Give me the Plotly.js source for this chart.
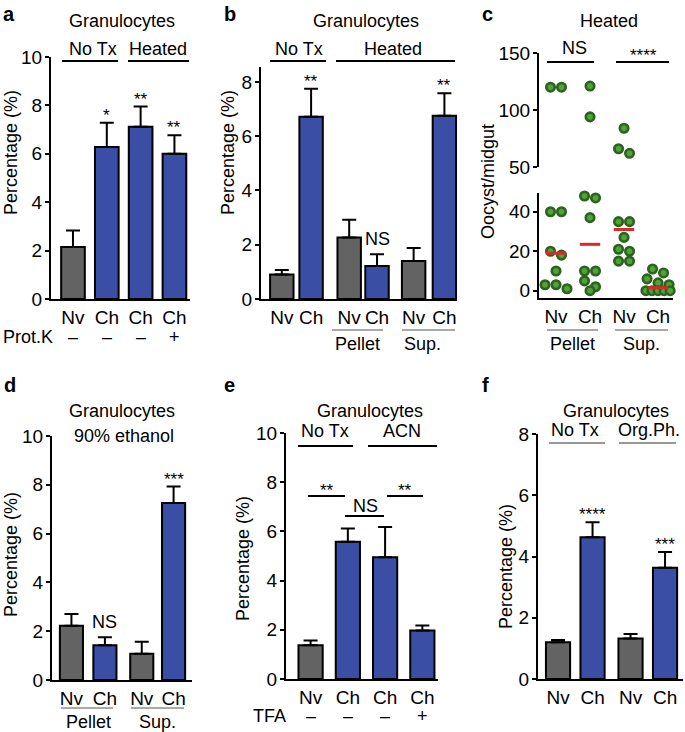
<!DOCTYPE html>
<html><head><meta charset="utf-8">
<script src="https://cdn.plot.ly/plotly-3.0.1.min.js"></script>
<style>body{margin:0;background:#fff}#chart{width:685px;height:732px}</style>
</head><body><div id="chart"></div>
<script>
// ---------------- DATA ----------------
// Panel a
const aLabels = ['Nv','Ch','Ch','Ch'];
const aValues = [2.15, 6.28, 7.12, 6.0];
const aErrors = [0.68, 1.0, 0.83, 0.77];
const aSig = ['', '*', '**', '**'];
const aProtK = ['–','–','–','+'];
// Panel b
const bLabels = ['Nv','Ch','Nv','Ch','Nv','Ch'];
const bValues = [0.9, 6.72, 2.27, 1.22, 1.4, 6.75];
const bErrors = [0.17, 1.03, 0.65, 0.43, 0.48, 0.83];
const bSig = ['', '**', '', 'NS', '', '**'];
// Panel c (oocysts per midgut)
const cLabels = ['Nv','Ch','Nv','Ch'];
const cPelletNv = [120,120,40,40,20,18,10,3,3,1];
const cPelletCh = [121,94,48,47,37,10,10,5,2,0];
const cSupNv = [84,66,62,35,35,27,21,20,15,15];
const cSupCh = [11,9,6,4,3,0,0,0,0,0];
// Panel d
const dLabels = ['Nv','Ch','Nv','Ch'];
const dValues = [2.22, 1.42, 1.08, 7.25];
const dErrors = [0.48, 0.33, 0.49, 0.68];
const dSig = ['', 'NS', '', '***'];
// Panel e
const eLabels = ['Nv','Ch','Ch','Ch'];
const eValues = [1.37, 5.58, 4.95, 1.97];
const eErrors = [0.2, 0.54, 1.23, 0.2];
const eTFA = ['–','–','–','+'];
// Panel f
const fLabels = ['Nv','Ch','Nv','Ch'];
const fValues = [1.2, 4.63, 1.32, 3.63];
const fErrors = [0.07, 0.49, 0.15, 0.52];
const fSig = ['', '****', '', '***'];

// ---------------- LAYOUT HELPERS ----------------
const W = 685, H = 732;
const X = p => p / W, Y = p => 1 - p / H;
const FONT = 'Liberation Sans, Arial, Helvetica, sans-serif';
const GREY = '#636363', BLUE = '#3b4ea5';
const TICK = 19;
const colorOf = l => l === 'Nv' ? GREY : BLUE;

function yax(top, bottom, range, tickvals, anchor) {
  return {domain: [Y(bottom), Y(top)], range, tickvals, ticktext: tickvals.map(String), anchor,
    showline: true, linecolor: '#000', linewidth: 2, ticks: 'outside', ticklen: 4, tickwidth: 2,
    tickcolor: '#000', showgrid: false, zeroline: false, fixedrange: true, ticklabelstandoff: -1,
    tickfont: {family: FONT, size: TICK, color: '#000'}};
}
function xax(l, r, range, pos, labels, anchor) {
  return {domain: [X(l), X(r)], range, tickvals: pos, ticktext: labels, anchor,
    showline: true, linecolor: '#000', linewidth: 2, ticks: '', showgrid: false, zeroline: false,
    fixedrange: true, ticklabelstandoff: 0, tickfont: {family: FONT, size: TICK, color: '#000'}};
}
function bars(pos, vals, errs, labels, width, xa, ya) {
  return {type: 'bar', x: pos, y: vals, width, xaxis: xa, yaxis: ya,
    marker: {color: labels.map(colorOf), line: {color: '#000', width: 2}},
    error_y: {type: 'data', symmetric: false, array: errs, arrayminus: errs.map(() => 0),
      color: '#000', thickness: 2, width: 7},
    hoverinfo: 'skip'};
}

const annotations = [], shapes = [];
function txt(t, x, y, size, o) {
  annotations.push(Object.assign({text: t, x: X(x), y: Y(y), xref: 'paper', yref: 'paper',
    xanchor: 'center', yanchor: 'middle', showarrow: false,
    font: {family: FONT, size: size || 17, color: '#000'}}, o || {}));
}
function hline(x0, x1, y, w, c) {
  shapes.push({type: 'line', xref: 'paper', yref: 'paper', x0: X(x0), x1: X(x1), y0: Y(y), y1: Y(y),
    line: {color: c || '#000', width: w || 2}});
}
function sig(list, pos, vals, errs, xr, yr) {
  list.forEach((s, i) => {
    if (!s) return;
    const star = s.indexOf('*') >= 0;
    annotations.push({text: s, x: pos[i], y: vals[i] + errs[i], xref: xr, yref: yr,
      xanchor: 'center', yanchor: 'bottom', showarrow: false, yshift: star ? -4 : 3,
      font: {family: FONT, size: star ? 17 : 18, color: '#000'}});
  });
}

// positions
const aPos = [0, 1, 2, 3];
const bPos = [0, 1, 2.3, 3.25, 4.5, 5.55];
const cPos = [0, 1, 2, 3];
const dPos = [0, 1, 2.1, 3.05];
const ePos = [0, 1, 2, 3];
const fPos = [0, 1, 2.1, 3.1];

const traces = [];
traces.push(bars(aPos, aValues, aErrors, aLabels, 0.7, 'x', 'y'));
traces.push(bars(bPos, bValues, bErrors, bLabels, 0.8, 'x2', 'y2'));
traces.push(bars(dPos, dValues, dErrors, dLabels, 0.69, 'x4', 'y5'));
traces.push(bars(ePos, eValues, eErrors, eLabels, 0.65, 'x5', 'y6'));
traces.push(bars(fPos, fValues, fErrors, fLabels, 0.7, 'x6', 'y7'));

// ---------------- PANEL C (broken axis dot plot) ----------------
const cX = [539, 673], cXr = [-0.5, 3.44];
const cLow = [193, 298], cLowR = [-3.7, 49.5];
const cUp = [53, 167], cUpR = [50, 150];
const xPxU = (cX[1] - cX[0]) / (cXr[1] - cXr[0]);
const lowPxU = (cLow[1] - cLow[0]) / (cLowR[1] - cLowR[0]);
const upPxU = (cUp[1] - cUp[0]) / (cUpR[1] - cUpR[0]);
const DOT = 11;
function swarm(vals, pxPerY) {
  const idx = vals.map((v, i) => i).sort((a, b) => vals[b] - vals[a]);
  const rows = []; let cur = null;
  idx.forEach(i => {
    if (cur && (vals[cur[0]] - vals[i]) * pxPerY < 0.8 * DOT) cur.push(i);
    else { cur = [i]; rows.push(cur); }
  });
  const off = new Array(vals.length).fill(0);
  rows.forEach(r => {
    const n = r.length;
    const step = n > 1 ? Math.min(DOT, 2.2 * DOT / (n - 1)) : 0;
    r.forEach((i, k) => { off[i] = (k - (n - 1) / 2) * step / xPxU; });
  });
  return off;
}
const median = a => { const s = [...a].sort((p, q) => p - q), m = s.length / 2;
  return s.length % 2 ? s[Math.floor(m)] : (s[m - 1] + s[m]) / 2; };
const cGroups = [cPelletNv, cPelletCh, cSupNv, cSupCh];
const dotMarker = {size: 8.5, color: '#52a23c', line: {color: '#2a641d', width: 2.6}};
cGroups.forEach((g, gi) => {
  [[g.filter(v => v >= 50), 'y4', upPxU], [g.filter(v => v < 50), 'y3', lowPxU]].forEach(([vals, ya, ppu]) => {
    if (!vals.length) return;
    const off = swarm(vals, ppu);
    traces.push({type: 'scatter', mode: 'markers', x: vals.map((v, i) => cPos[gi] + off[i]), y: vals,
      xaxis: 'x3', yaxis: ya, marker: dotMarker, cliponaxis: false, hoverinfo: 'skip'});
  });
  const m = median(g);
  traces.push({type: 'scatter', mode: 'lines', x: [cPos[gi] - 0.3, cPos[gi] + 0.3], y: [m, m],
    xaxis: 'x3', yaxis: 'y3', line: {color: '#d92a2a', width: 3}, hoverinfo: 'skip'});
});

// ---------------- ANNOTATIONS ----------------
// panel letters
[['a', 9, 14], ['b', 230, 14], ['c', 487, 14], ['d', 10, 385], ['e', 229, 385], ['f', 486, 385]]
  .forEach(([t, x, y]) => txt('<b>' + t + '</b>', x, y, 20));
// y titles
txt('Percentage (%)', 11, 153, 18, {textangle: -90});
txt('Percentage (%)', 228, 153, 18, {textangle: -90});
txt('Oocyst/midgut', 488, 182, 18, {textangle: -90});
txt('Percentage (%)', 11, 555, 18, {textangle: -90});
txt('Percentage (%)', 243, 558, 18, {textangle: -90});
txt('Percentage (%)', 506, 567, 18, {textangle: -90});

// a
txt('Granulocytes', 122, 21, 18); txt('No Tx', 93, 49, 18); txt('Heated', 158, 49, 18);
hline(62, 118, 61); hline(128, 189, 61);
txt('Prot.K', 55, 337, 18, {xanchor: 'right'});
aProtK.forEach((s, i) => annotations.push({text: s, x: aPos[i], y: Y(337), xref: 'x', yref: 'paper',
  showarrow: false, xanchor: 'center', yanchor: 'middle', font: {family: FONT, size: 18, color: '#000'}}));
sig(aSig, aPos, aValues, aErrors, 'x', 'y');
// b
txt('Granulocytes', 366, 21, 18); txt('No Tx', 299, 49, 18); txt('Heated', 393, 49, 18);
hline(270, 326, 61); hline(336, 455, 61);
hline(332, 383, 330, 1.2, '#555'); hline(402, 455, 330, 1.2, '#555');
txt('Pellet', 357, 344, 18); txt('Sup.', 422, 344, 18);
sig(bSig, bPos, bValues, bErrors, 'x2', 'y2');
// c
txt('Heated', 609, 21, 18); txt('NS', 574, 48, 18); txt('****', 643, 56, 17);
hline(547, 594, 62); hline(616, 669, 62);
hline(547, 598, 330, 1.2, '#555'); hline(615, 668, 330, 1.2, '#555');
txt('Pellet', 572, 344, 18); txt('Sup.', 641, 344, 18);
// d
txt('Granulocytes', 122, 411, 18); txt('90% ethanol', 124, 436, 18);
hline(61, 113, 708, 1.2, '#555'); hline(131, 184, 708, 1.2, '#555');
txt('Pellet', 88, 722, 18); txt('Sup.', 157, 722, 18);
sig(dSig, dPos, dValues, dErrors, 'x4', 'y5');
// e
txt('Granulocytes', 370, 411, 18); txt('No Tx', 325, 431, 18); txt('ACN', 402, 431, 18);
hline(298, 353, 446); hline(368, 437, 446);
txt('**', 327, 490, 17); hline(308, 345, 496);
txt('**', 405, 490, 17); hline(387, 423, 496);
txt('NS', 365, 506, 18); hline(345, 384, 516);
txt('TFA', 288, 716, 18, {xanchor: 'right'});
eTFA.forEach((s, i) => annotations.push({text: s, x: ePos[i], y: Y(716), xref: 'x5', yref: 'paper',
  showarrow: false, xanchor: 'center', yanchor: 'middle', font: {family: FONT, size: 18, color: '#000'}}));
// f
txt('Granulocytes', 616, 411, 18); txt('No Tx', 575, 430, 18); txt('Org.Ph.', 649, 430, 18);
hline(549, 605, 443, 1.2, '#333'); hline(619, 676, 443, 1.2, '#333');
sig(fSig, fPos, fValues, fErrors, 'x6', 'y7');

// ---------------- LAYOUT ----------------
const layout = {
  width: W, height: H, margin: {l: 0, r: 0, t: 0, b: 0},
  paper_bgcolor: '#fff', plot_bgcolor: 'rgba(0,0,0,0)', showlegend: false,
  barmode: 'overlay', font: {family: FONT, color: '#000'},
  xaxis: xax(51, 190, [-0.65, 3.46], aPos, aLabels, 'y'),
  yaxis: yax(57, 299, [0, 10], [0, 2, 4, 6, 8, 10], 'x'),
  xaxis2: xax(261, 457, [-0.71, 5.98], bPos, bLabels, 'y2'),
  yaxis2: yax(67, 299, [0, 8.55], [0, 2, 4, 6, 8], 'x2'),
  xaxis3: xax(cX[0], cX[1], cXr, cPos, cLabels, 'y3'),
  yaxis3: yax(cLow[0], cLow[1], cLowR, [0, 20, 40], 'x3'),
  yaxis4: yax(cUp[0], cUp[1], cUpR, [50, 100, 150], 'x3'),
  xaxis4: xax(52, 192, [-0.58, 3.6], dPos, dLabels, 'y5'),
  yaxis5: yax(436, 680, [0, 10], [0, 2, 4, 6, 8, 10], 'x4'),
  xaxis5: xax(286, 438, [-0.66, 3.42], ePos, eLabels, 'y6'),
  yaxis6: yax(433, 679, [0, 10], [0, 2, 4, 6, 8, 10], 'x5'),
  xaxis6: xax(538, 683, [-0.58, 3.62], fPos, fLabels, 'y7'),
  yaxis7: yax(434, 679, [0, 8], [0, 2, 4, 6, 8], 'x6'),
  annotations, shapes
};
Plotly.newPlot('chart', traces, layout, {staticPlot: true, displayModeBar: false});
</script></body></html>
